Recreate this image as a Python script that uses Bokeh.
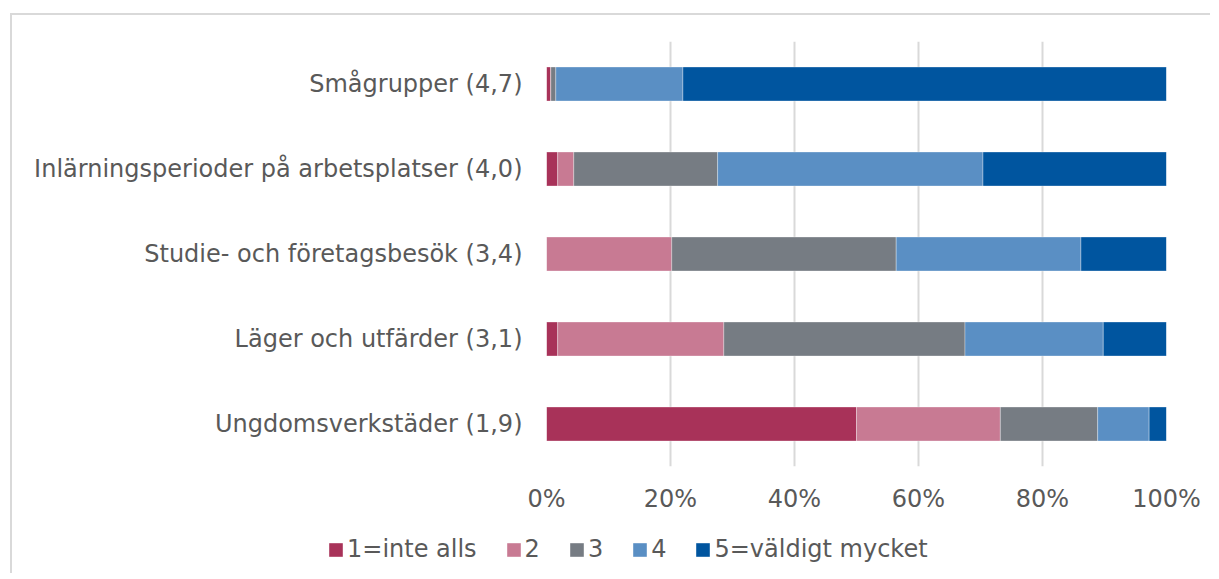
from bokeh.plotting import figure
from bokeh.models import ColumnDataSource, FactorRange, FixedTicker, Legend, LegendItem, Range1d
from bokeh.embed import file_html
from bokeh.resources import INLINE

categories = [
    "Smågrupper (4,7)",
    "Inlärningsperioder på arbetsplatser (4,0)",
    "Studie- och företagsbesök (3,4)",
    "Läger och utfärder (3,1)",
    "Ungdomsverkstäder (1,9)",
]
s1 = [0.7, 1.8, 0.0, 1.8, 50.0]
s2 = [0.0, 2.6, 20.2, 26.8, 23.2]
s3 = [0.8, 23.2, 36.2, 38.9, 15.7]
s4 = [20.5, 42.8, 29.8, 22.3, 8.3]
s5 = [78.0, 29.6, 13.8, 10.2, 2.8]
series_names = ["1=inte alls", "2", "3", "4", "5=väldigt mycket"]
colors = ["#A83259", "#C87A93", "#767C83", "#5A8FC4", "#00559F"]
ticks = [0, 20, 40, 60, 80, 100]
tick_labels = ["0%", "20%", "40%", "60%", "80%", "100%"]

keys = ["s1", "s2", "s3", "s4", "s5"]
source = ColumnDataSource(dict(cat=categories, s1=s1, s2=s2, s3=s3, s4=s4, s5=s5))

FONT = "DejaVu Sans"
TXT = "#595959"
BORDER = "2px solid #d9d9d9"

p = figure(
    width=1200, height=501,
    y_range=FactorRange(factors=list(reversed(categories))),
    x_range=Range1d(0, 100),
    output_backend="svg", toolbar_location=None,
    min_border_left=534, min_border_right=46, min_border_top=26, min_border_bottom=50,
)
p.margin = (13, 0, 0, 10)
p.styles = {"border-left": BORDER, "border-top": BORDER}
p.outline_line_color = None
p.background_fill_color = "white"
p.border_fill_color = "white"

rs = p.hbar_stack(keys, y="cat", height=0.4, color=colors, source=source,
                  line_color="white", line_alpha=0.4, line_width=0.8)

p.xaxis.ticker = FixedTicker(ticks=ticks)
p.xaxis.major_label_overrides = {t: l for t, l in zip(ticks, tick_labels)}
for ax in (p.xaxis, p.yaxis):
    ax.axis_line_color = None
    ax.major_tick_line_color = None
    ax.minor_tick_line_color = None
    ax.major_tick_out = 0
    ax.major_tick_in = 0
    ax.major_label_text_font = FONT
    ax.major_label_text_font_size = "24px"
    ax.major_label_text_color = TXT
p.xaxis.major_label_standoff = 18
p.yaxis.major_label_standoff = 24

p.ygrid.grid_line_color = None
p.xgrid.ticker = FixedTicker(ticks=ticks)
p.xgrid.grid_line_color = "#d9d9d9"
p.xgrid.grid_line_width = 2

# legend-only strip below the chart (separate root, so its frame is not aligned to p's)
q = figure(width=1200, height=59, output_backend="svg", toolbar_location=None,
           x_axis_type=None, y_axis_type=None, min_border=0,
           x_range=Range1d(0, 1), y_range=Range1d(0, 1))
q.margin = (0, 0, 0, 10)
q.styles = {"border-left": BORDER}
q.outline_line_color = None
q.grid.grid_line_color = None
q.border_fill_color = "white"
q.background_fill_color = "white"
# zero-length legend proxies (one row each so the legend swatch has a colour)
proxy_src = ColumnDataSource(dict(y=[0], left=[0], right=[0]))
proxies = [q.hbar(y="y", left="left", right="right", height=0, fill_color=c,
                  line_color=None, source=proxy_src) for c in colors]

legend = Legend(
    items=[LegendItem(label=n, renderers=[r]) for n, r in zip(series_names, proxies)],
    orientation="horizontal",
    location=(315, 10),
    glyph_width=17, glyph_height=17,
    label_standoff=3, label_width=12, spacing=28,
    padding=0, margin=0,
    border_line_color=None, background_fill_alpha=0,
    label_text_font=FONT, label_text_font_size="24px", label_text_color=TXT,
)
q.add_layout(legend, "center")

open("out.html", "w").write(file_html([p, q], INLINE))
